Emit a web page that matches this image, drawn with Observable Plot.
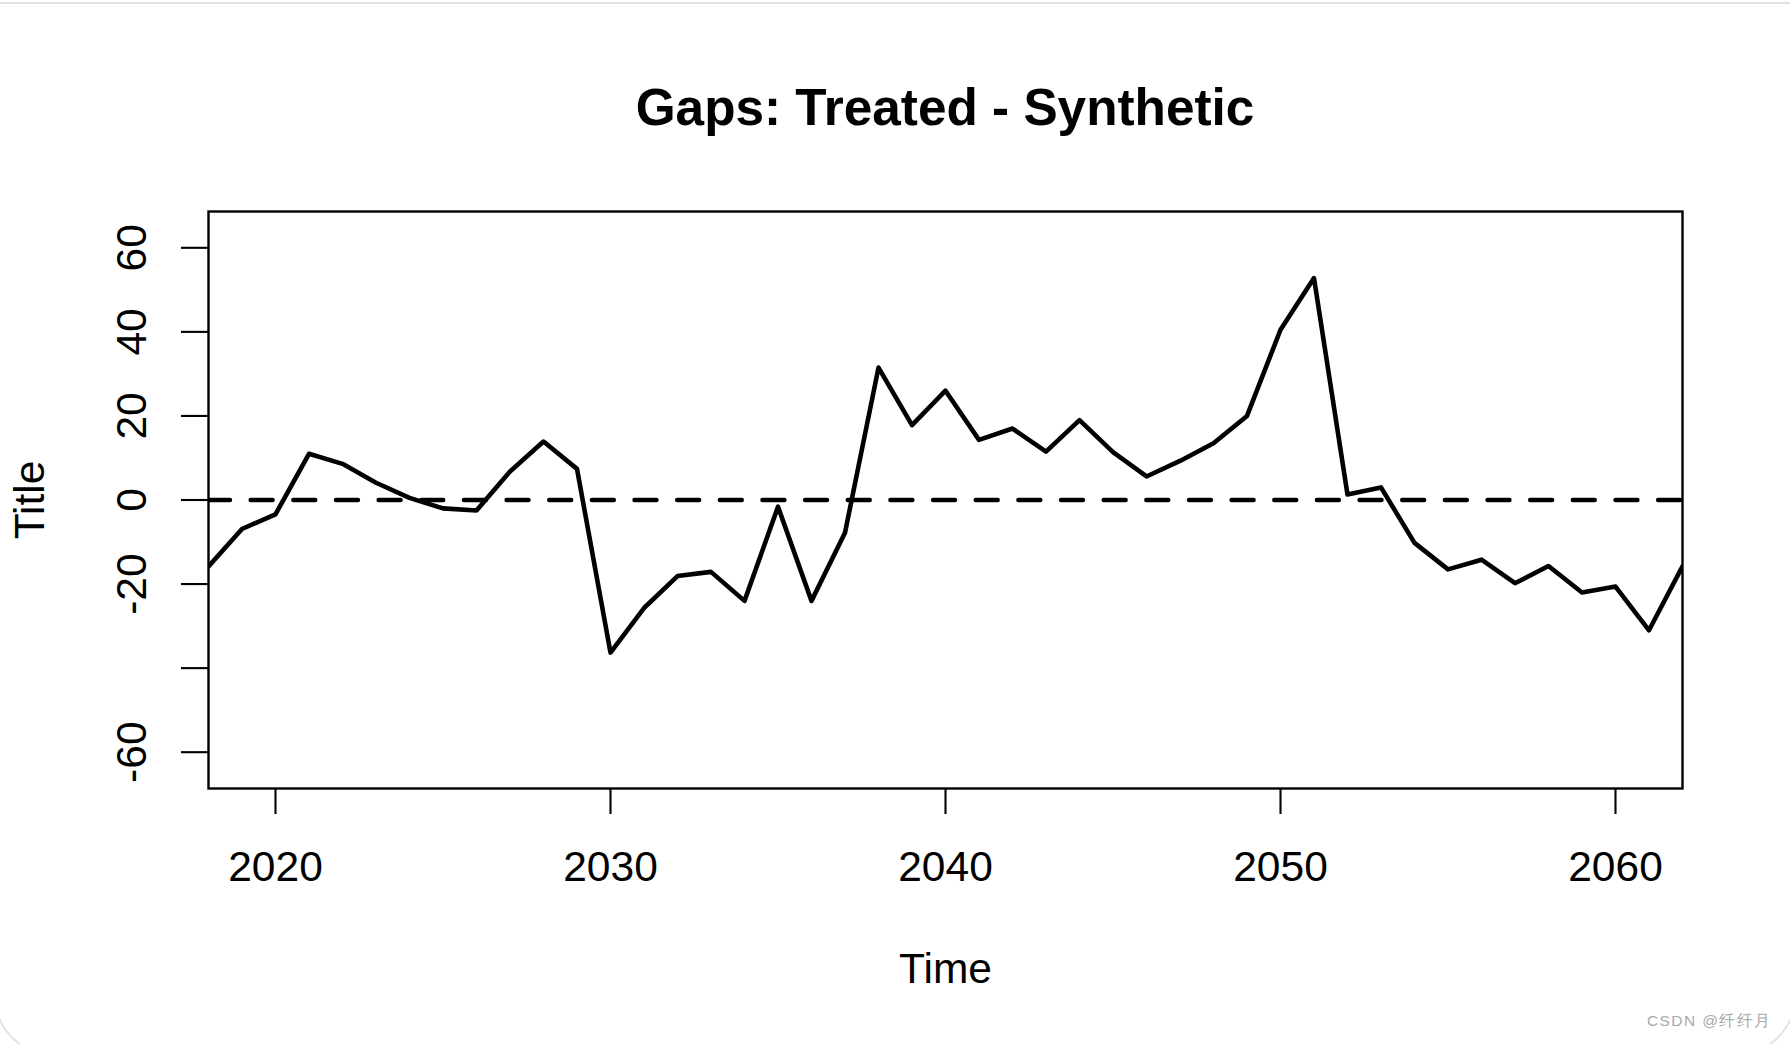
<!DOCTYPE html>
<html>
<head>
<meta charset="utf-8">
<script src="https://cdn.jsdelivr.net/npm/d3@7"></script>
<script src="https://cdn.jsdelivr.net/npm/@observablehq/plot@0.6"></script>
<style>
  html, body { margin: 0; padding: 0; background: #fff; }
  body { width: 1790px; height: 1044px; position: relative; overflow: hidden;
         font-family: "Liberation Sans", Arial, Helvetica, sans-serif; color: #000; }
  #card { position: absolute; left: -6px; top: 2px; width: 1802px; height: 1054px;
          border: 2px solid #e2e2e2; border-radius: 0 0 60px 60px; box-sizing: border-box; }
  #title { position: relative; height: 150px; }
  #title span { position: absolute; left: 208px; width: 1474px; top: 82px; text-align: center;
                font-weight: bold; font-size: 51.3px; line-height: 51px; white-space: nowrap; }
  #chart { position: relative; }
  #chart svg { display: block; }
  #wm { position: absolute; left: 1647px; top: 1013px; font-size: 15.5px; line-height: 15.5px;
        letter-spacing: 1.4px; color: #a9a9a9; white-space: nowrap; }
</style>
</head>
<body>
<div id="card"></div>
<div id="title"><span></span></div>
<div id="chart"></div>
<div id="wm"></div>
<script>
// ---- data ----
const titleText = "Gaps: Treated - Synthetic";
const xLabel = "Time";
const yLabel = "Title";
const watermark = "CSDN @纤纤月";

const years = [2018, 2019, 2020, 2021, 2022, 2023, 2024, 2025, 2026, 2027,
               2028, 2029, 2030, 2031, 2032, 2033, 2034, 2035, 2036, 2037,
               2038, 2039, 2040, 2041, 2042, 2043, 2044, 2045, 2046, 2047,
               2048, 2049, 2050, 2051, 2052, 2053, 2054, 2055, 2056, 2057,
               2058, 2059, 2060, 2061, 2062];
const gaps = [-15.8, -6.9, -3.4, 11.0, 8.6, 4.1, 0.5, -2.0, -2.5, 6.8,
              13.9, 7.4, -36.3, -25.7, -18.1, -17.1, -24.0, -1.6, -24.0, -7.8,
              31.5, 17.8, 26.0, 14.3, 17.0, 11.5, 19.0, 11.4, 5.6, 9.3,
              13.5, 20.0, 40.5, 52.8, 1.3, 3.0, -10.2, -16.5, -14.2, -19.8,
              -15.7, -22.0, -20.6, -31.0, -15.8];
const referenceLine = [0];

const xTicks = [2020, 2030, 2040, 2050, 2060];
const xTickLabels = ["2020", "2030", "2040", "2050", "2060"];
const yTicks = [-60, -40, -20, 0, 20, 40, 60];
const yTickLabels = ["-60", "", "-20", "0", "20", "40", "60"];

const xDomain = [2018, 2062];
const yDomain = [-68.64, 68.64];

// ---- build ----
const data = years.map((year, i) => ({year, gap: gaps[i]}));

document.querySelector("#title span").textContent = titleText;
document.getElementById("wm").textContent = watermark;

const chart = Plot.plot({
  width: 1790,
  height: 894,
  marginTop: 61,
  marginBottom: 256,
  marginLeft: 208,
  marginRight: 108,
  style: {
    fontFamily: '"Liberation Sans", Arial, Helvetica, sans-serif',
    fontSize: "42px",
    color: "#000",
    background: "transparent",
    overflow: "visible"
  },
  x: {domain: xDomain, label: null},
  y: {domain: yDomain, label: null},
  marks: [
    Plot.ruleY(referenceLine, {
      stroke: "#000", strokeWidth: 4.4, strokeDasharray: "22,20.65",
      strokeLinecap: "round", clip: "frame"
    }),
    Plot.line(data, {
      x: "year", y: "gap", stroke: "#000", strokeWidth: 4.6,
      strokeLinejoin: "round", strokeLinecap: "round", clip: "frame"
    }),
    Plot.frame({stroke: "#000", strokeWidth: 2.4}),
    Plot.axisX({
      ticks: xTicks,
      tickFormat: d => xTickLabels[xTicks.indexOf(d)],
      tickSize: 26, tickPadding: 36, strokeWidth: 2.1,
      fontSize: 42.5,
      label: xLabel, labelAnchor: "center", labelOffset: 194.5, labelArrow: "none"
    }),
    Plot.axisY({
      ticks: yTicks,
      tickFormat: d => yTickLabels[yTicks.indexOf(d)],
      tickSize: 27, tickPadding: 36, tickRotate: -90, strokeWidth: 2.1,
      fontSize: 42.5,
      label: yLabel, labelAnchor: "center", labelOffset: 194.7, labelArrow: "none"
    })
  ]
});
document.getElementById("chart").appendChild(chart);
</script>
</body>
</html>
